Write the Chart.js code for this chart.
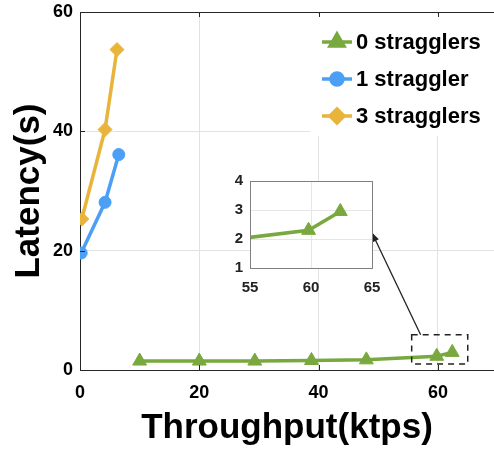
<!DOCTYPE html>
<html>
<head>
<meta charset="utf-8">
<script src="https://cdn.jsdelivr.net/npm/chart.js@4"></script>
<style>
  html, body { margin: 0; background: #fff; overflow: hidden; }
  #wrap { position: relative; width: 494px; height: 449px; overflow: hidden; }
  #mainChart { position: absolute; left: 0; top: 0; }
  #insetChart { position: absolute; left: 215px; top: 165px; }
</style>
</head>
<body>
<div id="wrap">
  <!-- a bit wider than the window: chart.js keeps ~9px on the right, the original axes run off the edge -->
  <canvas id="mainChart" width="503" height="449"></canvas>
  <canvas id="insetChart" width="170" height="135"></canvas>
</div>
<script>
// data
const seriesNames = ["0 stragglers", "1 straggler", "3 stragglers"];

const zeroX = [10, 20, 29.3, 38.8, 48, 59.8, 62.4];
const zeroY = [1.5, 1.5, 1.5, 1.6, 1.7, 2.3, 2.95];

const oneX = [0.2, 4.2, 6.5];
const oneY = [19.6, 28.1, 36.1];

const threeX = [0.3, 4.2, 6.2];
const threeY = [25.3, 40.3, 53.7];

const xTicks = [0, 20, 40, 60];
const yTicks = [0, 20, 40, 60];
const insetXTicks = [55, 60, 65];
const insetYTicks = [1, 2, 3, 4];

const FONT = "'Liberation Sans', Arial, sans-serif";
const colors = ["#78a83e", "#4b9ff5", "#e8b43c"];
const styles = ["triangle", "circle", "rectRot"];
const radii = [8, 6, 7];

function toPoints(xs, ys) {
  return xs.map((x, i) => ({ x: x, y: ys[i] }));
}

function makeDatasets() {
  const all = [[zeroX, zeroY], [oneX, oneY], [threeX, threeY]];
  return all.map((d, i) => ({
    label: seriesNames[i],
    data: toPoints(d[0], d[1]),
    borderColor: colors[i],
    backgroundColor: colors[i],
    borderWidth: 3.5,
    pointStyle: styles[i],
    pointRadius: radii[i],
    pointHoverRadius: radii[i],
    pointBorderWidth: 1,
    tension: 0,
  }));
}

// drop the extra room chart.js keeps for edge labels
function noEdgePadding(s) {
  s.paddingTop = 0; s.paddingBottom = 0;
  s.paddingLeft = 0; s.paddingRight = 0;
}

// inward tick marks + top border, like matlab axes
const boxPlugin = {
  id: "box",
  afterDraw(chart) {
    const ctx = chart.ctx;
    const a = chart.chartArea;
    const xs = chart.scales.x, ys = chart.scales.y;
    ctx.save();
    ctx.strokeStyle = "#262626";
    ctx.lineWidth = 1;
    ctx.beginPath();
    ctx.moveTo(a.left, a.top + 0.5);
    ctx.lineTo(a.right, a.top + 0.5);
    xTicks.forEach((v) => {
      const px = Math.round(xs.getPixelForValue(v)) + 0.5;
      ctx.moveTo(px, a.bottom); ctx.lineTo(px, a.bottom - 5);
      ctx.moveTo(px, a.top); ctx.lineTo(px, a.top + 5);
    });
    yTicks.forEach((v) => {
      const py = Math.round(ys.getPixelForValue(v)) + 0.5;
      ctx.moveTo(a.left, py); ctx.lineTo(a.left + 5, py);
    });
    ctx.stroke();
    ctx.restore();
  },
};

// legend with line + marker, on white box in the top right
const legendPlugin = {
  id: "lineLegend",
  afterDatasetsDraw(chart) {
    const ctx = chart.ctx;
    const a = chart.chartArea;
    ctx.save();
    ctx.fillStyle = "#fff";
    ctx.fillRect(a.right - 184, a.top + 2, 184, 122);
    chart.data.datasets.forEach((ds, i) => {
      const y = a.top + 30 + 37 * i;
      const x0 = a.right - 172;
      ctx.strokeStyle = ds.borderColor;
      ctx.lineWidth = 3.5;
      ctx.beginPath();
      ctx.moveTo(x0, y);
      ctx.lineTo(x0 + 30, y);
      ctx.stroke();
      ctx.fillStyle = ds.backgroundColor;
      Chart.helpers.drawPoint(ctx, {
        pointStyle: ds.pointStyle, radius: ds.pointRadius, rotation: 0, borderWidth: 1,
      }, x0 + 15, y);
      ctx.fillStyle = "#000";
      ctx.font = "bold 22px " + FONT;
      ctx.textBaseline = "middle";
      ctx.textAlign = "left";
      ctx.fillText(ds.label, x0 + 34, y + 1);
    });
    ctx.restore();
  },
};

// dashed zoom box and arrow to the inset
const zoomPlugin = {
  id: "zoomBox",
  afterDatasetsDraw(chart) {
    const ctx = chart.ctx;
    const xs = chart.scales.x, ys = chart.scales.y;
    const x1 = xs.getPixelForValue(55.6), x2 = xs.getPixelForValue(65);
    const y1 = ys.getPixelForValue(5.9), y2 = ys.getPixelForValue(1.0);
    ctx.save();
    ctx.strokeStyle = "#222";
    ctx.lineWidth = 1.5;
    ctx.setLineDash([6, 5]);
    ctx.strokeRect(x1, y1, x2 - x1, y2 - y1);
    ctx.setLineDash([]);
    // arrow
    const tx = xs.getPixelForValue(57.1), ty = y1;
    const hx = xs.getPixelForValue(48.9), hy = ys.getPixelForValue(23.1);
    ctx.lineWidth = 1.3;
    ctx.beginPath();
    ctx.moveTo(tx, ty);
    ctx.lineTo(hx, hy);
    ctx.stroke();
    const ang = Math.atan2(hy - ty, hx - tx);
    ctx.fillStyle = "#222";
    ctx.beginPath();
    ctx.moveTo(hx, hy);
    ctx.lineTo(hx - 10 * Math.cos(ang - 0.35), hy - 10 * Math.sin(ang - 0.35));
    ctx.lineTo(hx - 10 * Math.cos(ang + 0.35), hy - 10 * Math.sin(ang + 0.35));
    ctx.closePath();
    ctx.fill();
    ctx.restore();
  },
};

new Chart(document.getElementById("mainChart"), {
  type: "line",
  data: { datasets: makeDatasets() },
  options: {
    responsive: false,
    animation: false,
    events: [],
    layout: { padding: { top: 12, right: 0, left: 0, bottom: 0 } },
    plugins: { legend: { display: false }, tooltip: { enabled: false } },
    scales: {
      x: {
        type: "linear",
        min: 0,
        max: 69.4,
        afterBuildTicks: (s) => { s.ticks = xTicks.map((v) => ({ value: v })); },
        afterFit: (s) => { s.height = 79; noEdgePadding(s); },
        grid: { color: "#e2e2e2", drawTicks: false },
        border: { display: true, color: "#262626", width: 1 },
        ticks: { color: "#000", padding: 12, font: { family: FONT, size: 18, weight: "bold" } },
        title: {
          display: true, text: "Throughput(ktps)", color: "#000",
          padding: { top: 0, bottom: 0 },
          font: { family: FONT, size: 35, weight: "bold", lineHeight: 1.2 },
        },
      },
      y: {
        type: "linear",
        min: 0,
        max: 60,
        afterBuildTicks: (s) => { s.ticks = yTicks.map((v) => ({ value: v })); },
        afterFit: (s) => { s.width = 80; noEdgePadding(s); },
        grid: { color: "#e2e2e2", drawTicks: false },
        border: { display: true, color: "#262626", width: 1 },
        ticks: { color: "#000", padding: 7, font: { family: FONT, size: 18, weight: "bold" } },
        title: {
          display: true, text: "Latency(s)", color: "#000",
          padding: { top: 8, bottom: 0 },
          font: { family: FONT, size: 35, weight: "bold", lineHeight: 1.2 },
        },
      },
    },
  },
  plugins: [boxPlugin, legendPlugin, zoomPlugin],
});

// inset: same series, zoomed in
const insetBg = {
  id: "insetBg",
  beforeDraw(chart) {
    const a = chart.chartArea;
    chart.ctx.save();
    chart.ctx.fillStyle = "#fff";
    chart.ctx.fillRect(a.left, a.top, a.right - a.left, a.bottom - a.top);
    chart.ctx.restore();
  },
  afterDraw(chart) {
    const a = chart.chartArea;
    const ctx = chart.ctx;
    ctx.save();
    ctx.strokeStyle = "#808080";
    ctx.lineWidth = 1;
    ctx.strokeRect(Math.round(a.left) + 0.5, Math.round(a.top) + 0.5,
      Math.round(a.right - a.left), Math.round(a.bottom - a.top));
    ctx.restore();
  },
};

new Chart(document.getElementById("insetChart"), {
  type: "line",
  data: { datasets: makeDatasets().slice(0, 1) },
  options: {
    responsive: false,
    animation: false,
    events: [],
    layout: { padding: { top: 16, right: 13, left: 0, bottom: 0 } },
    plugins: { legend: { display: false }, tooltip: { enabled: false } },
    scales: {
      x: {
        type: "linear",
        min: 55,
        max: 65,
        afterBuildTicks: (s) => { s.ticks = insetXTicks.map((v) => ({ value: v })); },
        afterFit: (s) => { s.height = 32; noEdgePadding(s); },
        grid: { color: "#e6e6e6", drawTicks: false },
        border: { display: false },
        ticks: { color: "#222", padding: 11, font: { family: FONT, size: 15, weight: "bold" } },
      },
      y: {
        type: "linear",
        min: 1,
        max: 4,
        afterBuildTicks: (s) => { s.ticks = insetYTicks.map((v) => ({ value: v })); },
        afterFit: (s) => { s.width = 35; noEdgePadding(s); },
        grid: { color: "#e6e6e6", drawTicks: false },
        border: { display: false },
        ticks: { color: "#222", padding: 7, font: { family: FONT, size: 15, weight: "bold" } },
      },
    },
  },
  plugins: [insetBg],
});
</script>
</body>
</html>
